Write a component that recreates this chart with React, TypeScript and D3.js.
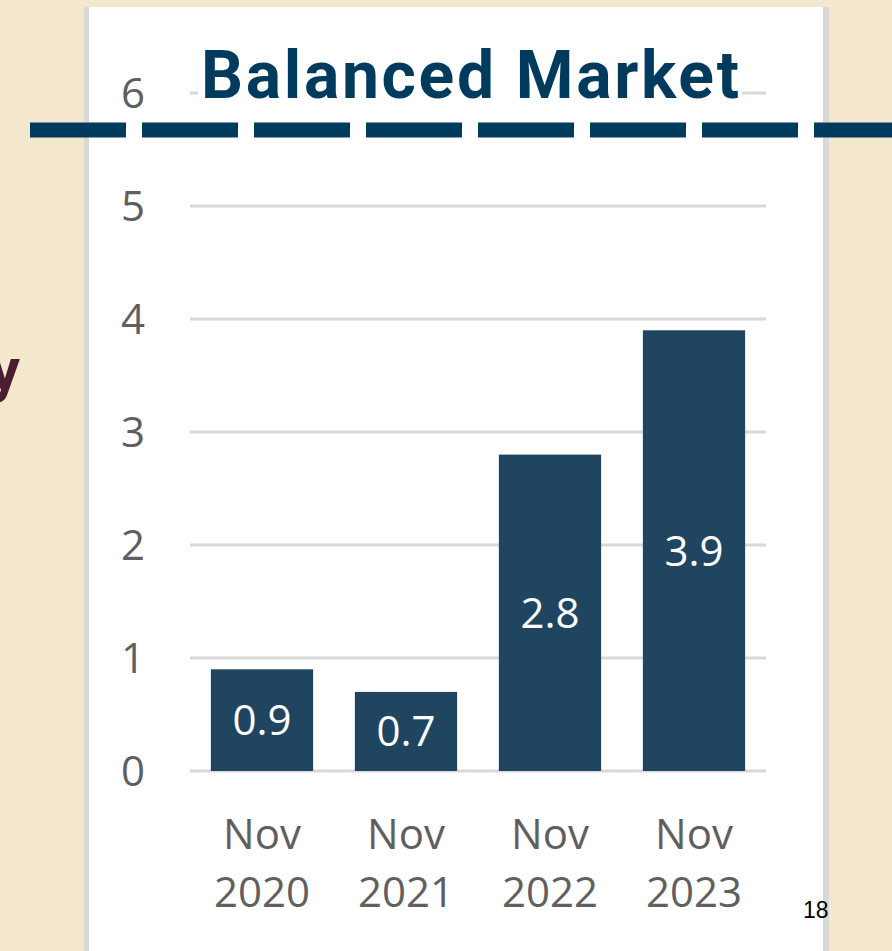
import React from 'react'
import * as d3 from 'd3'

const months = ['Nov', 'Nov', 'Nov', 'Nov']
const years = ['2020', '2021', '2022', '2023']
const values = [0.9, 0.7, 2.8, 3.9]
const yTicks = [0, 1, 2, 3, 4, 5, 6]
const title = 'Balanced Market'

export default function App() {
  const width = 892
  const height = 951
  const plot = {left: 190, right: 766, top: 93, bottom: 771}

  const x = d3.scaleBand()
    .domain(years)
    .range([plot.left, plot.right])
    .paddingInner(0.29)
    .paddingOuter(0.145)

  const y = d3.scaleLinear()
    .domain([0, 6])
    .range([plot.bottom, plot.top])

  const grey = '#5f5f5f'
  const tickFont = "'Open Sans', sans-serif"

  return (
    <svg width={width} height={height} style={{position: 'absolute', left: 0, top: 0}}>
      <rect x={0} y={0} width={width} height={height} fill="#f3e7cd" />
      {/* white panel */}
      <rect x={84} y={7} width={745} height={height - 7} fill="#ffffff" />
      <rect x={84} y={7} width={5} height={height - 7} fill="#d9d9d9" />
      <rect x={823} y={7} width={6} height={height - 7} fill="#d9d9d9" />

      {/* grid */}
      {yTicks.map(t => (
        <line key={t} x1={plot.left} x2={plot.right} y1={y(t)} y2={y(t)}
          stroke="#d9d9d9" strokeWidth={3} />
      ))}
      {yTicks.map(t => (
        <text key={'l' + t} x={133} y={y(t) + 15} textAnchor="middle"
          fontFamily={tickFont} fontSize={42} fill={grey}>{t}</text>
      ))}

      {/* bars */}
      {values.map((v, i) => (
        <g key={i}>
          <rect x={x(years[i])} y={y(v)} width={x.bandwidth()} height={y(0) - y(v)}
            fill="#1f4560" />
          <text x={x(years[i])! + x.bandwidth() / 2} y={(y(v) + y(0)) / 2 + 15}
            textAnchor="middle" fontFamily={tickFont} fontSize={42} fill="#ffffff">
            {v.toFixed(1)}
          </text>
          <text x={x(years[i])! + x.bandwidth() / 2} y={849} textAnchor="middle"
            fontFamily={tickFont} fontSize={42} fill={grey}>{months[i]}</text>
          <text x={x(years[i])! + x.bandwidth() / 2} y={907} textAnchor="middle"
            fontFamily={tickFont} fontSize={42} fill={grey}>{years[i]}</text>
        </g>
      ))}

      {/* title over the top gridline */}
      <rect x={198} y={40} width={544} height={70} fill="#ffffff" />
      <text x={201} y={98} fontFamily="Roboto, sans-serif" fontWeight={700}
        fontSize={66} fill="#003a5d" textLength={538} lengthAdjust="spacing">{title}</text>

      {/* dashed divider */}
      <line x1={30} x2={width} y1={130} y2={130} stroke="#003a5d" strokeWidth={15}
        strokeDasharray="96 16" />

      {/* cut off word on the left */}
      <text x={20} y={390} textAnchor="end" fontFamily="Roboto, sans-serif"
        fontWeight={700} fontSize={60} fill="#4b1d31">y</text>

      <text x={803} y={918} fontFamily="Arial, 'Liberation Sans', sans-serif"
        fontSize={23} fill="#000000">18</text>
    </svg>
  )
}
